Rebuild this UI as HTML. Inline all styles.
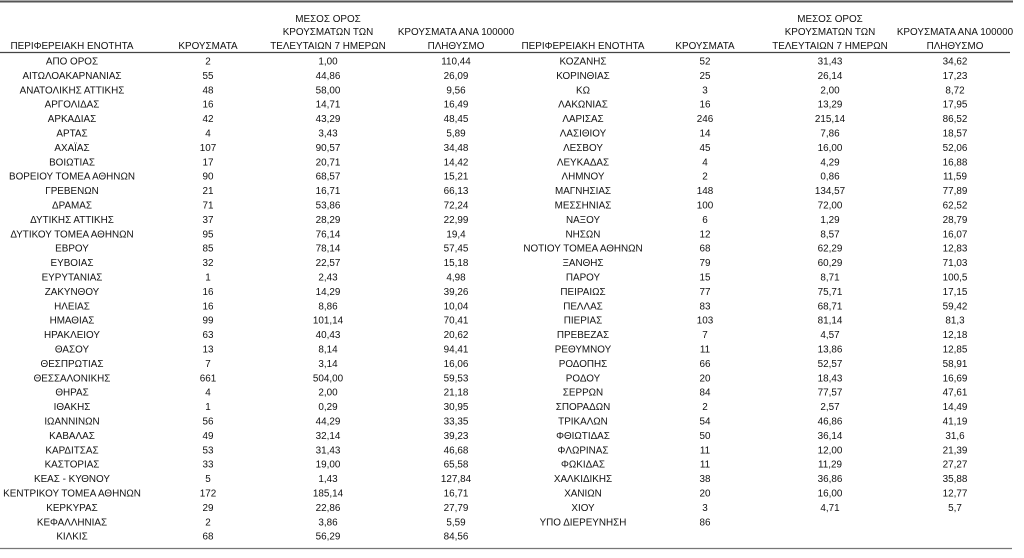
<!DOCTYPE html>
<html><head><meta charset="utf-8"><style>
html,body{margin:0;padding:0;background:#fff;}
svg{display:block;}
text{font-family:"Liberation Sans","DejaVu Sans",sans-serif;font-size:9.9px;fill:#111;text-anchor:middle;}
</style></head><body>
<svg width="1024" height="558" viewBox="0 0 1024 558" xmlns="http://www.w3.org/2000/svg">
<rect width="1024" height="558" fill="#fff"/>
<line x1="0" y1="1.5" x2="1013" y2="1.5" stroke="#555" stroke-width="2"/>
<line x1="0" y1="52.5" x2="1010" y2="52.5" stroke="#444" stroke-width="1.2"/>
<line x1="0" y1="548.5" x2="1012" y2="548.5" stroke="#777" stroke-width="1.2"/>
<g>
<text x="72" y="49">ΠΕΡΙΦΕΡΕΙΑΚΗ ΕΝΟΤΗΤΑ</text>
<text x="208" y="49">ΚΡΟΥΣΜΑΤΑ</text>
<text x="328" y="22">ΜΕΣΟΣ ΟΡΟΣ</text>
<text x="328" y="35">ΚΡΟΥΣΜΑΤΩΝ ΤΩΝ</text>
<text x="328" y="49">ΤΕΛΕΥΤΑΙΩΝ 7 ΗΜΕΡΩΝ</text>
<text x="456" y="35">ΚΡΟΥΣΜΑΤΑ ΑΝΑ 100000</text>
<text x="456" y="49">ΠΛΗΘΥΣΜΟ</text>
<text x="583" y="49">ΠΕΡΙΦΕΡΕΙΑΚΗ ΕΝΟΤΗΤΑ</text>
<text x="705" y="49">ΚΡΟΥΣΜΑΤΑ</text>
<text x="830" y="22">ΜΕΣΟΣ ΟΡΟΣ</text>
<text x="830" y="35">ΚΡΟΥΣΜΑΤΩΝ ΤΩΝ</text>
<text x="830" y="49">ΤΕΛΕΥΤΑΙΩΝ 7 ΗΜΕΡΩΝ</text>
<text x="955" y="35">ΚΡΟΥΣΜΑΤΑ ΑΝΑ 100000</text>
<text x="955" y="49">ΠΛΗΘΥΣΜΟ</text>
</g>
<g id="rows"></g>
</svg>
<script>
var L=[["ΑΠΟ ΟΡΟΣ","2","1,00","110,44"],["ΑΙΤΩΛΟΑΚΑΡΝΑΝΙΑΣ","55","44,86","26,09"],["ΑΝΑΤΟΛΙΚΗΣ ΑΤΤΙΚΗΣ","48","58,00","9,56"],["ΑΡΓΟΛΙΔΑΣ","16","14,71","16,49"],["ΑΡΚΑΔΙΑΣ","42","43,29","48,45"],["ΑΡΤΑΣ","4","3,43","5,89"],["ΑΧΑΪΑΣ","107","90,57","34,48"],["ΒΟΙΩΤΙΑΣ","17","20,71","14,42"],["ΒΟΡΕΙΟΥ ΤΟΜΕΑ ΑΘΗΝΩΝ","90","68,57","15,21"],["ΓΡΕΒΕΝΩΝ","21","16,71","66,13"],["ΔΡΑΜΑΣ","71","53,86","72,24"],["ΔΥΤΙΚΗΣ ΑΤΤΙΚΗΣ","37","28,29","22,99"],["ΔΥΤΙΚΟΥ ΤΟΜΕΑ ΑΘΗΝΩΝ","95","76,14","19,4"],["ΕΒΡΟΥ","85","78,14","57,45"],["ΕΥΒΟΙΑΣ","32","22,57","15,18"],["ΕΥΡΥΤΑΝΙΑΣ","1","2,43","4,98"],["ΖΑΚΥΝΘΟΥ","16","14,29","39,26"],["ΗΛΕΙΑΣ","16","8,86","10,04"],["ΗΜΑΘΙΑΣ","99","101,14","70,41"],["ΗΡΑΚΛΕΙΟΥ","63","40,43","20,62"],["ΘΑΣΟΥ","13","8,14","94,41"],["ΘΕΣΠΡΩΤΙΑΣ","7","3,14","16,06"],["ΘΕΣΣΑΛΟΝΙΚΗΣ","661","504,00","59,53"],["ΘΗΡΑΣ","4","2,00","21,18"],["ΙΘΑΚΗΣ","1","0,29","30,95"],["ΙΩΑΝΝΙΝΩΝ","56","44,29","33,35"],["ΚΑΒΑΛΑΣ","49","32,14","39,23"],["ΚΑΡΔΙΤΣΑΣ","53","31,43","46,68"],["ΚΑΣΤΟΡΙΑΣ","33","19,00","65,58"],["ΚΕΑΣ - ΚΥΘΝΟΥ","5","1,43","127,84"],["ΚΕΝΤΡΙΚΟΥ ΤΟΜΕΑ ΑΘΗΝΩΝ","172","185,14","16,71"],["ΚΕΡΚΥΡΑΣ","29","22,86","27,79"],["ΚΕΦΑΛΛΗΝΙΑΣ","2","3,86","5,59"],["ΚΙΛΚΙΣ","68","56,29","84,56"]];
var R=[["ΚΟΖΑΝΗΣ","52","31,43","34,62"],["ΚΟΡΙΝΘΙΑΣ","25","26,14","17,23"],["ΚΩ","3","2,00","8,72"],["ΛΑΚΩΝΙΑΣ","16","13,29","17,95"],["ΛΑΡΙΣΑΣ","246","215,14","86,52"],["ΛΑΣΙΘΙΟΥ","14","7,86","18,57"],["ΛΕΣΒΟΥ","45","16,00","52,06"],["ΛΕΥΚΑΔΑΣ","4","4,29","16,88"],["ΛΗΜΝΟΥ","2","0,86","11,59"],["ΜΑΓΝΗΣΙΑΣ","148","134,57","77,89"],["ΜΕΣΣΗΝΙΑΣ","100","72,00","62,52"],["ΝΑΞΟΥ","6","1,29","28,79"],["ΝΗΣΩΝ","12","8,57","16,07"],["ΝΟΤΙΟΥ ΤΟΜΕΑ ΑΘΗΝΩΝ","68","62,29","12,83"],["ΞΑΝΘΗΣ","79","60,29","71,03"],["ΠΑΡΟΥ","15","8,71","100,5"],["ΠΕΙΡΑΙΩΣ","77","75,71","17,15"],["ΠΕΛΛΑΣ","83","68,71","59,42"],["ΠΙΕΡΙΑΣ","103","81,14","81,3"],["ΠΡΕΒΕΖΑΣ","7","4,57","12,18"],["ΡΕΘΥΜΝΟΥ","11","13,86","12,85"],["ΡΟΔΟΠΗΣ","66","52,57","58,91"],["ΡΟΔΟΥ","20","18,43","16,69"],["ΣΕΡΡΩΝ","84","77,57","47,61"],["ΣΠΟΡΑΔΩΝ","2","2,57","14,49"],["ΤΡΙΚΑΛΩΝ","54","46,86","41,19"],["ΦΘΙΩΤΙΔΑΣ","50","36,14","31,6"],["ΦΛΩΡΙΝΑΣ","11","12,00","21,39"],["ΦΩΚΙΔΑΣ","11","11,29","27,27"],["ΧΑΛΚΙΔΙΚΗΣ","38","36,86","35,88"],["ΧΑΝΙΩΝ","20","16,00","12,77"],["ΧΙΟΥ","3","4,71","5,7"],["ΥΠΟ ΔΙΕΡΕΥΝΗΣΗ","86","",""]];
var g=document.getElementById('rows'),ns="http://www.w3.org/2000/svg";
function put(data,xs){data.forEach(function(r,i){var y=64.5+i*14.4;r.forEach(function(t,j){if(!t)return;var e=document.createElementNS(ns,'text');e.setAttribute('x',xs[j]);e.setAttribute('y',y.toFixed(1));e.textContent=t;g.appendChild(e);});});}
put(L,[72,208,328,456]);put(R,[583,705,830,955]);
</script>
</body></html>
